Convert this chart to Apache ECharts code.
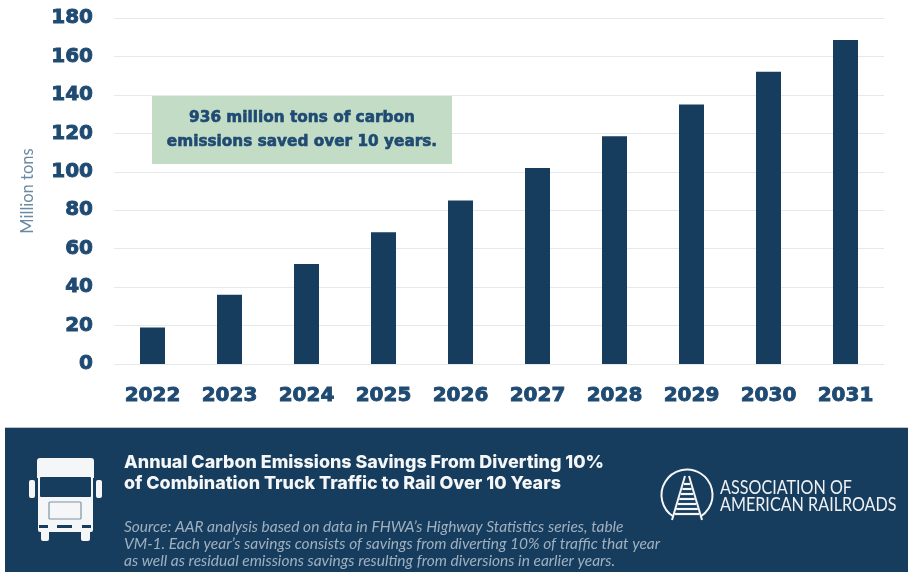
<!DOCTYPE html>
<html><head><meta charset="utf-8">
<style>html,body{margin:0;padding:0;background:#fff}#c{width:914px;height:572px}</style>
<script src="https://cdn.jsdelivr.net/npm/echarts@6/dist/echarts.min.js"></script></head>
<body><div id="c"></div>
<script>
const years = ['2022','2023','2024','2025','2026','2027','2028','2029','2030','2031'];
const savings = [19, 36, 52, 68.5, 85, 102, 118.5, 135, 152, 168.5];
const yMax = 180, yStep = 20;
const navy = '#173d5e', labelBlue = '#1f4a72';
const heavy = '"DejaVu Sans"';
const chart = echarts.init(document.getElementById('c'), null, {renderer:'canvas'});
const W = '#f4f6f7';
const truck = {type:'group', children:[
  {type:'rect', z:5, shape:{x:37,y:458,width:57,height:20,r:[3,3,0,0]}, style:{fill:W}},
  {type:'rect', z:5, shape:{x:38,y:476,width:55,height:56,r:2}, style:{fill:W}},
  {type:'rect', z:6, shape:{x:40,y:477,width:51,height:20,r:1}, style:{fill:navy}},
  {type:'rect', z:5, shape:{x:29,y:480,width:6,height:18,r:2}, style:{fill:W}},
  {type:'rect', z:5, shape:{x:96,y:480,width:6,height:18,r:2}, style:{fill:W}},
  {type:'rect', z:6, shape:{x:49,y:502,width:32,height:17,r:1}, style:{fill:'none',stroke:'#7f93a5',lineWidth:1.2}},
  {type:'rect', z:6, shape:{x:39,y:525,width:9,height:3}, style:{fill:navy}},
  {type:'rect', z:6, shape:{x:57,y:525,width:15,height:3}, style:{fill:navy}},
  {type:'rect', z:6, shape:{x:82,y:525,width:9,height:3}, style:{fill:navy}},
  {type:'rect', z:5, shape:{x:41,y:532,width:8,height:9,r:[0,0,2,2]}, style:{fill:W}},
  {type:'rect', z:5, shape:{x:81,y:532,width:9,height:9,r:[0,0,2,2]}, style:{fill:W}}
]};
const tieYs = [484,489,494,499,504,509,514];
const logo = {type:'group', children:[
  {type:'arc', z:5, shape:{cx:687,cy:495,r:25.5,startAngle:Math.PI*0.5+0.55,endAngle:Math.PI*0.5-0.55,clockwise:true}, style:{fill:'none',stroke:W,lineWidth:2}},
  {type:'line', z:5, shape:{x1:685,y1:476,x2:672,y2:520}, style:{stroke:W,lineWidth:2}},
  {type:'line', z:5, shape:{x1:689,y1:476,x2:702,y2:520}, style:{stroke:W,lineWidth:2}}
].concat(tieYs.map(y=>({type:'line', z:5, shape:{x1:687-(y-474)*0.31,y1:y,x2:687+(y-474)*0.31,y2:y}, style:{stroke:W,lineWidth:2.2}})))};
const txt = (x,y,text,font,fill,extra)=>Object.assign({type:'text',x,y,z:6,style:Object.assign({text,font,fill,textVerticalAlign:'middle',textAlign:(extra&&extra.align)||'left'},extra&&extra.st||{})},extra&&extra.el||{});
const thick = {stroke:labelBlue,lineWidth:0.6};
chart.setOption({
  animation:false,
  grid:{left:114,right:30,top:18,bottom:208},
  xAxis:{type:'category',data:years,
    axisLine:{show:false},axisTick:{show:false},
    axisLabel:{color:labelBlue,fontFamily:heavy,fontWeight:'bold',fontSize:20,margin:22,textBorderColor:labelBlue,textBorderWidth:0.9}},
  yAxis:{type:'value',min:0,max:yMax,interval:yStep,
    name:'Million tons',nameLocation:'middle',nameGap:78,
    nameTextStyle:{color:'#6a8aa2',fontFamily:'Lato',fontSize:16.5},
    axisLine:{show:false},axisTick:{show:false},
    splitLine:{lineStyle:{color:'#e6e8e9',width:1}},
    axisLabel:{color:labelBlue,fontFamily:heavy,fontWeight:'bold',fontSize:20,margin:21,padding:[8,0,0,0],textBorderColor:labelBlue,textBorderWidth:0.9}},
  series:[{type:'bar',data:savings,barWidth:25,itemStyle:{color:navy}}],
  graphic:[
    {type:'rect',z:4,shape:{x:152,y:96,width:300,height:68},style:{fill:'#c3dcc6'}},
    txt(302,118,'936 million tons of carbon','bold 15.3px '+heavy,labelBlue,{align:'center',st:thick}),
    txt(302,142,'emissions saved over 10 years.','bold 15.3px '+heavy,labelBlue,{align:'center',st:thick}),
    {type:'rect',z:3,shape:{x:5,y:427,width:903,height:1},style:{fill:'#b9c6d0'}},
    {type:'rect',z:4,shape:{x:5,y:428,width:903,height:144},style:{fill:navy}},
    truck, logo,
    txt(124,463,'Annual Carbon Emissions Savings From Diverting 10%','800 17.9px Inter','#f4f6f7'),
    txt(124,484,'of Combination Truck Traffic to Rail Over 10 Years','800 17.9px Inter','#f4f6f7'),
    txt(124,527,'Source: AAR analysis based on data in FHWA\u2019s Highway Statistics series, table','italic 15.5px Lato','#9fb0bf'),
    txt(124,544,'VM-1. Each year\u2019s savings consists of savings from diverting 10% of traffic that year','italic 15.5px Lato','#9fb0bf'),
    txt(124,561,'as well as residual emissions savings resulting from diversions in earlier years.','italic 15.5px Lato','#9fb0bf'),
    txt(720,488,'ASSOCIATION OF','400 19px Lato','#eef1f3',{el:{scaleX:0.85}}),
    txt(720,505,'AMERICAN RAILROADS','400 19px Lato','#eef1f3',{el:{scaleX:0.85}})
  ]
});
</script></body></html>
